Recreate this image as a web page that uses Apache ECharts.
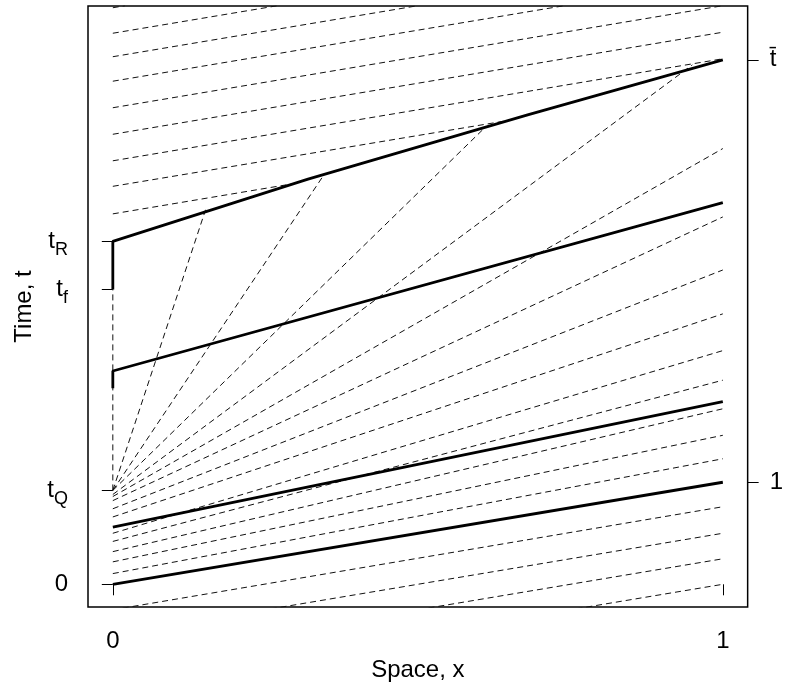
<!DOCTYPE html>
<html>
<head>
<meta charset="utf-8">
<script src="https://cdn.jsdelivr.net/npm/echarts@6/dist/echarts.min.js"></script>
<style>
  html, body { margin: 0; padding: 0; background: #fff; }
  #chart { width: 786px; height: 690px; }
</style>
</head>
<body>
<div id="chart"></div>
<script>
// characteristics coming in from below (t at x=0 and at x=1)
var lowerStart = [-0.25, -0.50, -0.75, -1.00];
var lowerEnd = [0.76, 0.50, 0.25, 0.00];

// characteristics leaving x=0 and reaching x=1
var midStart = [0.105, 0.22, 0.32, 0.42, 0.50, 0.66, 0.74, 0.82, 0.86];
var midEnd = [1.23, 1.46, 1.72, 2.00, 2.29, 2.65, 3.08, 3.60, 4.27];

// steep fan lines that stop on the upper bold line
var fanStart = [0.88, 0.92, 0.92, 0.92];
var fanEndX = [0.95, 0.609, 0.348, 0.152];
var fanEndT = [5.09, 4.47, 4.03, 3.67];

// lines above the upper bold line
var upperStart = [3.63, 3.90, 4.15, 4.41, 4.67, 4.93, 5.17, 5.40, 5.65];
var upperEndX = [0.30, 0.653, 1.00, 1.00, 1.00, 0.74, 0.50, 0.27, 0.02];
var upperEndT = [3.93, 4.55, 5.15, 5.41, 5.67, 5.67, 5.67, 5.67, 5.67];

// dashed piece on the left edge (t_Q to t_f)
var queueT = [0.92, 2.89];

// bold trajectories
var traj1 = [[0, 0], [1, 1.0]];
var traj2 = [[0, 0.56], [1, 1.79]];
var traj3 = [[0, 1.92], [0, 2.09], [1, 3.74]];
var traj4 = [[0, 2.89], [0, 3.36], [0.32, 3.97], [0.68, 4.60], [1, 5.14]];

// ticks
var xTicks = [0, 1];
var leftTicks = [0, 0.92, 2.89, 3.36];
var leftLabels = ['0', '{t|t}{s|Q}', '{t|t}{s|f}', '{t|t}{s|R}'];
var rightTicks = [1, 5.14];
var rightLabels = ['1', 't\u0304'];

var FONT = 'Liberation Sans, Arial, sans-serif';
var dashStyle = { color: '#111', width: 1, type: [6, 4] };
var boldStyle = { color: '#000', width: 2.8 };

var series = [];
function addLine(pts, style) {
  series.push({
    type: 'line', data: pts, symbol: 'none', silent: true,
    lineStyle: style, z: style === boldStyle ? 3 : 2
  });
}
for (var i = 0; i < lowerStart.length; i++) addLine([[0, lowerStart[i]], [1, lowerEnd[i]]], dashStyle);
for (i = 0; i < midStart.length; i++) addLine([[0, midStart[i]], [1, midEnd[i]]], dashStyle);
for (i = 0; i < fanStart.length; i++) addLine([[0, fanStart[i]], [fanEndX[i], fanEndT[i]]], dashStyle);
for (i = 0; i < upperStart.length; i++) addLine([[0, upperStart[i]], [upperEndX[i], upperEndT[i]]], dashStyle);
addLine([[0, queueT[0]], [0, queueT[1]]], dashStyle);
[traj1, traj2, traj3, traj4].forEach(function (t) { addLine(t, boldStyle); });

var tickStyle = { show: true, length: 11, lineStyle: { color: '#000', width: 1 } };
var richLab = {
  t: { fontSize: 24, fontFamily: FONT, color: '#000' },
  s: { fontSize: 18, fontFamily: FONT, color: '#000', padding: [18, 0, 0, 0] }
};

var chart = echarts.init(document.getElementById('chart'));
chart.setOption({
  animation: false,
  backgroundColor: '#fff',
  grid: { left: 88, right: 33, top: 6, bottom: 83, show: true, borderColor: '#000', borderWidth: 1.5 },
  xAxis: {
    type: 'value', min: -0.0407, max: 1.0407,
    name: 'Space, x', nameLocation: 'middle', nameGap: 50,
    nameTextStyle: { fontSize: 24, fontFamily: FONT, color: '#000' },
    axisLine: { show: false }, splitLine: { show: false },
    axisTick: Object.assign({ customValues: xTicks }, tickStyle),
    axisLabel: { customValues: xTicks, fontSize: 24, fontFamily: FONT, color: '#000', margin: 22 }
  },
  yAxis: [{
    type: 'value', min: -0.2225, max: 5.667, position: 'left',
    name: 'Time, t', nameLocation: 'middle', nameGap: 52,
    nameTextStyle: { fontSize: 24, fontFamily: FONT, color: '#000' },
    axisLine: { show: false }, splitLine: { show: false },
    axisTick: Object.assign({ customValues: leftTicks }, tickStyle),
    axisLabel: {
      customValues: leftTicks, margin: 20, color: '#000', fontSize: 24, fontFamily: FONT,
      formatter: function (v) { return leftLabels[leftTicks.indexOf(v)]; },
      rich: richLab
    }
  }, {
    type: 'value', min: -0.2225, max: 5.667, position: 'right',
    axisLine: { show: false }, splitLine: { show: false },
    axisTick: Object.assign({ customValues: rightTicks }, tickStyle),
    axisLabel: {
      customValues: rightTicks, margin: 22, color: '#000', fontSize: 24, fontFamily: FONT,
      formatter: function (v) { return rightLabels[rightTicks.indexOf(v)]; }
    }
  }],
  series: series
});
</script>
</body>
</html>
